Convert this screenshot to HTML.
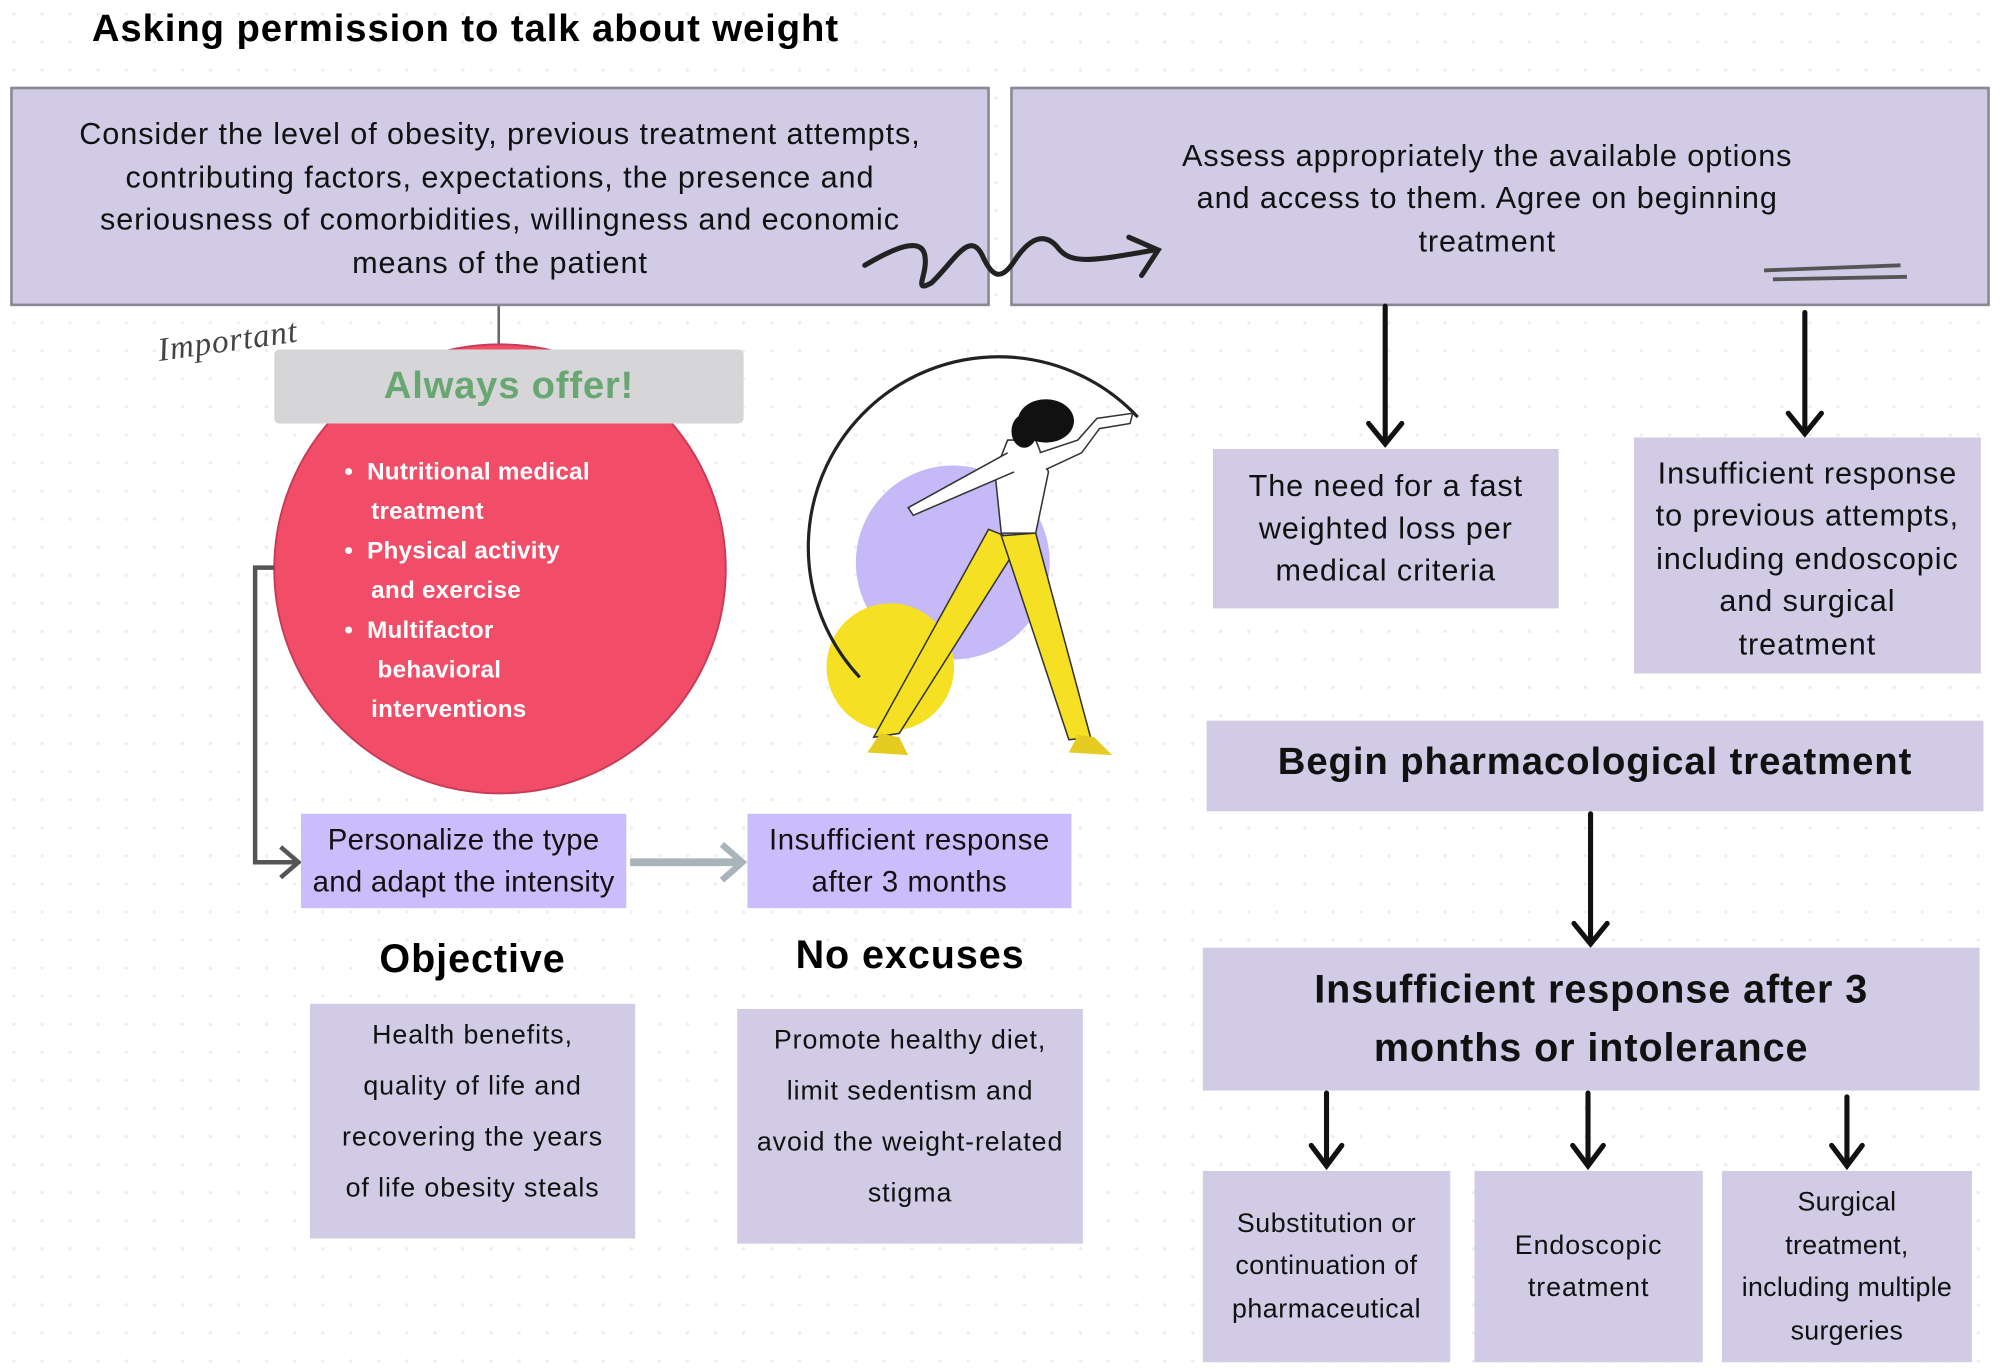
<!DOCTYPE html>
<html><head><meta charset="utf-8"><style>
html,body{margin:0;padding:0;background:#fff;}
body{width:2000px;height:1368px;overflow:hidden;position:relative;}
#c{position:absolute;left:0;top:0;width:1568px;height:1073px;transform:scale(1.27551);transform-origin:0 0;font-family:"Liberation Sans",sans-serif;letter-spacing:0.045em;
background-image:radial-gradient(circle,#ececf0 1px,transparent 1.6px);background-size:22px 22px;}
.b{position:absolute;box-sizing:border-box;background:#d1cbe5;display:flex;align-items:center;justify-content:center;text-align:center;color:#111;}
.t{position:absolute;white-space:nowrap;}
</style></head><body><div id="c">
<div class="t" style="left:72px;top:6px;font-size:30px;font-weight:bold;">Asking permission to talk about weight</div>

<div class="b" style="left:8px;top:68px;width:768px;height:172px;border:2px solid #8a8894;font-size:24px;line-height:33.5px;padding-top:4px;">Consider the level of obesity, previous treatment attempts,<br>contributing factors, expectations, the presence and<br>seriousness of comorbidities, willingness and economic<br>means of the patient</div>
<div class="b" style="left:792px;top:68px;width:768px;height:172px;border:2px solid #8a8894;font-size:24px;line-height:33.5px;padding-top:4px;padding-right:20px;">Assess appropriately the available options<br>and access to them. Agree on beginning<br>treatment</div>

<svg style="position:absolute;left:0;top:0" width="1568" height="1073">
<line x1="391" y1="240" x2="391" y2="272" stroke="#666" stroke-width="2"/>
<path d="M678,208 C700,195 722,185 725,200 C728,215 715,230 730,222 C748,205 760,180 770,200 C778,218 785,220 795,205 C808,185 820,182 830,195 C840,207 855,205 905,196" fill="none" stroke="#222" stroke-width="4" stroke-linecap="round"/>
<path d="M885,186 L908,196 L895,216" fill="none" stroke="#222" stroke-width="4" stroke-linecap="round"/>
<line x1="1383" y1="212" x2="1490" y2="208" stroke="#555" stroke-width="3"/>
<line x1="1390" y1="219" x2="1495" y2="217" stroke="#555" stroke-width="3"/>
<text x="125" y="283" font-family="Liberation Serif,serif" font-style="italic" font-size="26" fill="#444" transform="rotate(-8 125 283)">Important</text>
<ellipse cx="392" cy="446" rx="177" ry="176" fill="#f24d68" stroke="#c83a55" stroke-width="1.5"/>
<path d="M215,445 L200,445 L200,676 L232,676" fill="none" stroke="#555" stroke-width="3.5"/>
<path d="M220,664 L234,676 L220,688" fill="none" stroke="#555" stroke-width="3.5"/>
<line x1="494" y1="676" x2="578" y2="676" stroke="#a9b3ba" stroke-width="6"/>
<path d="M566,662 L582,676 L566,690" fill="none" stroke="#a9b3ba" stroke-width="5"/>
<circle cx="747" cy="441" r="76" fill="#c5b9f7"/>
<circle cx="698" cy="523" r="50" fill="#f5e023"/>
<path d="M674,531 A147,147 0 1 1 892,327" fill="none" stroke="#222" stroke-width="2.5"/>
<path d="M775,415 L800,425 L705,575 L685,578 Z" fill="#f5e023" stroke="#333" stroke-width="1.2"/>
<path d="M785,420 L812,418 L855,578 L838,580 L795,450 Z" fill="#f5e023" stroke="#333" stroke-width="1.2"/>
<path d="M680,590 L690,575 L705,578 L712,592 Z" fill="#e6cc20"/>
<path d="M838,590 L845,576 L858,578 L872,592 Z" fill="#e6cc20"/>
<path d="M785,418 L812,418 L822,370 L812,345 L790,345 L780,370 Z" fill="#fff" stroke="#333" stroke-width="1.2"/>
<path d="M790,355 L712,398 L716,404 L795,370" fill="#fff" stroke="#333" stroke-width="1.2"/>
<path d="M815,355 L845,345 L860,328 L888,324 L886,332 L862,336 L848,355 L820,368" fill="#fff" stroke="#333" stroke-width="1.2"/>
<ellipse cx="820" cy="330" rx="22" ry="17" fill="#111"/>
<ellipse cx="803" cy="338" rx="10" ry="13" fill="#111"/>
<g stroke="#111" stroke-width="4" fill="none" stroke-linecap="round">
<line x1="1086" y1="240" x2="1086" y2="346"/><path d="M1073,332 L1086,348 L1099,332"/>
<line x1="1415" y1="245" x2="1415" y2="338"/><path d="M1402,324 L1415,340 L1428,324"/>
<line x1="1247" y1="638" x2="1247" y2="738"/><path d="M1234,724 L1247,740 L1260,724"/>
<line x1="1040" y1="857" x2="1040" y2="912"/><path d="M1028,898 L1040,914 L1052,898"/>
<line x1="1245" y1="857" x2="1245" y2="912"/><path d="M1233,898 L1245,914 L1257,898"/>
<line x1="1448" y1="860" x2="1448" y2="912"/><path d="M1436,898 L1448,914 L1460,898"/>
</g>
</svg>

<div class="b" style="left:215px;top:274px;width:368px;height:58px;background:#d6d6d8;border-radius:4px;color:#68a672;font-size:30px;font-weight:bold;letter-spacing:0.02em;">Always offer!</div>
<div class="t" style="left:270px;top:355px;color:#fff;font-size:19px;font-weight:bold;line-height:31px;letter-spacing:0.01em;">
<div>•&nbsp; Nutritional medical</div><div style="padding-left:21px">treatment</div>
<div>•&nbsp; Physical activity</div><div style="padding-left:21px">and exercise</div>
<div>•&nbsp; Multifactor</div><div style="padding-left:26px">behavioral</div><div style="padding-left:21px">interventions</div></div>

<div class="b" style="left:236px;top:638px;width:255px;height:74px;background:#cbbdfb;font-size:23px;line-height:33px;letter-spacing:0.01em;">Personalize the type<br>and adapt the intensity</div>
<div class="b" style="left:586px;top:638px;width:254px;height:74px;background:#cbbdfb;font-size:23px;line-height:33px;letter-spacing:0.02em;">Insufficient response<br>after 3 months</div>
<div class="t" style="left:243px;top:734px;width:255px;text-align:center;font-size:31px;font-weight:bold;">Objective</div>
<div class="t" style="left:578px;top:731px;width:271px;text-align:center;font-size:31px;font-weight:bold;">No excuses</div>
<div class="b" style="left:243px;top:787px;width:255px;height:184px;font-size:21px;line-height:40px;padding-bottom:14px;">Health benefits,<br>quality of life and<br>recovering the years<br>of life obesity steals</div>
<div class="b" style="left:578px;top:791px;width:271px;height:184px;font-size:21px;line-height:40px;padding-bottom:14px;">Promote healthy diet,<br>limit sedentism and<br>avoid the weight-related<br>stigma</div>

<div class="b" style="left:951px;top:352px;width:271px;height:125px;font-size:24px;line-height:33px;">The need for a fast<br>weighted loss per<br>medical criteria</div>
<div class="b" style="left:1281px;top:343px;width:272px;height:185px;font-size:24px;line-height:33.5px;padding-top:6px;">Insufficient response<br>to previous attempts,<br>including endoscopic<br>and surgical<br>treatment</div>
<div class="b" style="left:946px;top:565px;width:609px;height:71px;font-size:30px;font-weight:bold;padding-bottom:6px;">Begin pharmacological treatment</div>
<div class="b" style="left:943px;top:743px;width:609px;height:112px;font-size:31px;font-weight:bold;line-height:46px;">Insufficient response after 3<br>months or intolerance</div>
<div class="b" style="left:943px;top:918px;width:194px;height:150px;font-size:21px;line-height:33.5px;letter-spacing:0.02em;">Substitution or<br>continuation of<br>pharmaceutical</div>
<div class="b" style="left:1156px;top:918px;width:179px;height:150px;font-size:21px;line-height:33.5px;">Endoscopic<br>treatment</div>
<div class="b" style="left:1350px;top:918px;width:196px;height:150px;font-size:21px;line-height:33.5px;letter-spacing:0.01em;">Surgical<br>treatment,<br>including multiple<br>surgeries</div>
</div></body></html>
